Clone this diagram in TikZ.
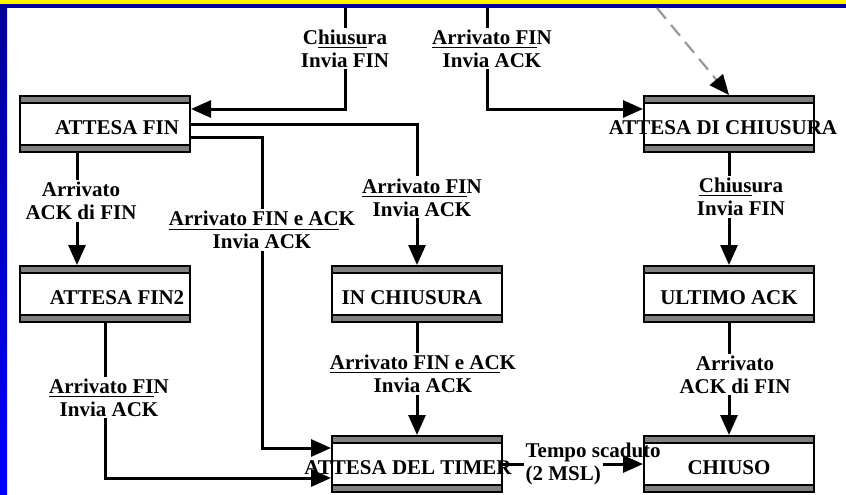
\documentclass[tikz,border=0pt]{standalone}
\usepackage{fontspec}
\setmainfont{Liberation Serif}
\usepackage{tikz}
\usetikzlibrary{positioning, arrows.meta}

\begin{document}
\begin{tikzpicture}[
    x=0.5pt, y=0.5pt,
    node distance=56pt and 70pt,
    stato/.style={draw, line width=1pt, minimum width=85pt, minimum height=28pt, inner sep=0pt,
      text height=10pt, text depth=0pt, font=\fontsize{10.5}{11.5}\selectfont\bfseries,
      path picture={
        \fill[black!50] (path picture bounding box.north west) rectangle ([yshift=-3.5pt]path picture bounding box.north east);
        \fill[black!50] (path picture bounding box.south west) rectangle ([yshift=3.5pt]path picture bounding box.south east);
        \draw[line width=1pt] ([yshift=-3.5pt]path picture bounding box.north west) -- ([yshift=-3.5pt]path picture bounding box.north east);
        \draw[line width=1pt] ([yshift=3.5pt]path picture bounding box.south west) -- ([yshift=3.5pt]path picture bounding box.south east);
      }},
    etichetta/.style={fill=white, inner sep=1pt, align=center, font=\fontsize{10.5}{11.5}\selectfont\bfseries},
    freccia/.style={line width=1.5pt, ->},
    tratteggiata/.style={draw=black!40, line width=1.1pt, dash pattern=on 7pt off 4pt, -{Triangle[length=10pt, width=8.5pt, color=black]}},
    >={Triangle[length=10pt, width=8.5pt]}
  ]
    \useasboundingbox (0,0) rectangle (846,494);
    % cornice
    \fill[yellow] (0,489.5) rectangle (846,494);
    \fill[blue!60!black] (0,486) rectangle (846,489.5);
    \shade[top color=blue!60!black, bottom color=blue] (0,0) rectangle (7,486);

    % stati
    \node[stato] (attesafin) at (105,370) {\hspace*{12pt}ATTESA FIN};
    \node[stato, below=of attesafin] (attesafin2) {\hspace*{12pt}ATTESA FIN2};
    \node[stato, right=of attesafin2] (inchiusura) {IN CHIUSURA\hspace*{5pt}};
    \node[stato, right=of inchiusura] (ultimoack) {ULTIMO ACK};
    \node[stato, above=of ultimoack] (attesachiusura) {\makebox[0pt]{ATTESA DI CHIUSURA\hspace*{6pt}}};
    \node[stato, below=of inchiusura] (timer) {\makebox[0pt]{ATTESA DEL TIMER\hspace*{9pt}}};
    \node[stato, below=of ultimoack] (chiuso) {CHIUSO};

    \coordinate (ingresso1) at (345,486);
    \coordinate (ingresso2) at (487,486);
    \coordinate (ingresso3) at (657,486);

    % transizioni
    \draw[freccia] (ingresso1) |- node[etichetta, pos=0.2] {C\underline{hiusu}ra\\Invia FIN} ([yshift=7.5pt]attesafin.east);
    \draw[freccia] (ingresso2) |- node[etichetta, pos=0.2, xshift=2.5pt] {\underline{Arrivato FI}N\\Invia ACK} ([yshift=7.5pt]attesachiusura.west);
    \draw[tratteggiata] (ingresso3) -- (attesachiusura.north);
    \draw[freccia] (attesafin.east) -| node[etichetta, pos=0.76, xshift=2.5pt] {\underline{Arrivato FI}N\\Invia ACK} (inchiusura.north);
    \draw[freccia] ([yshift=-6.5pt]attesafin.east) -- ++(71,0) |- node[etichetta, pos=0.15] {\underline{Arrivato FIN e AC}K\\Invia ACK} ([yshift=8pt]timer.west);
    \draw[freccia] ([xshift=-14pt]attesafin.south) -- node[etichetta, pos=0.43, xshift=2pt] {Arrivato\\ACK di FIN} ([xshift=-14pt]attesafin2.north);
    \draw[freccia] (attesafin2.south) |- node[etichetta, pos=0.24, xshift=2pt] {\underline{Arrivato FI}N\\Invia ACK} ([yshift=-7pt]timer.west);
    \draw[freccia] (inchiusura) -- node[etichetta, pos=0.455, xshift=3pt] {\underline{Arrivato FIN e AC}K\\Invia ACK} (timer);
    \draw[freccia] (timer) -- node[etichetta, pos=0.43, align=left] {\makebox[35pt][l]{Tempo scaduto}\\(2 MSL)} (chiuso);
    \draw[freccia] (attesachiusura) -- node[etichetta, pos=0.39, xshift=6pt] {\underline{Chius}ura\\Invia FIN} (ultimoack);
    \draw[freccia] (ultimoack) -- node[etichetta, pos=0.46, xshift=3pt] {Arrivato\\ACK di FIN} (chiuso);
\end{tikzpicture}
\end{document}
